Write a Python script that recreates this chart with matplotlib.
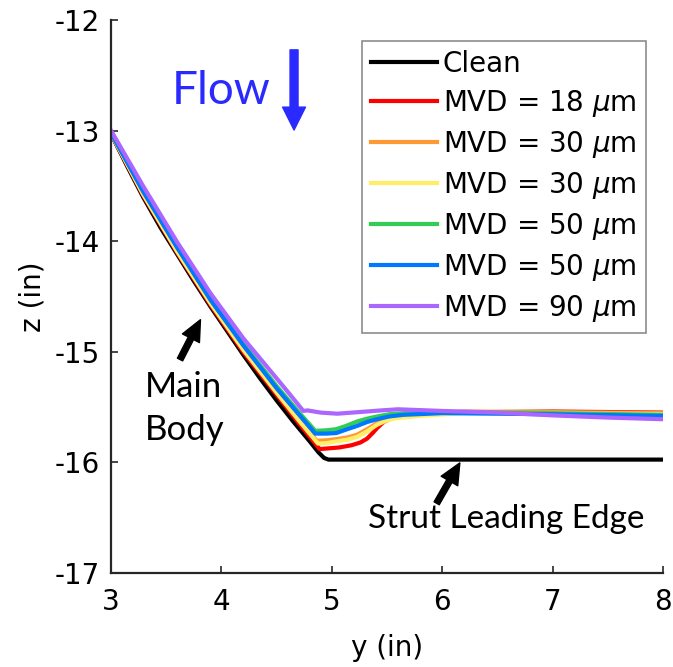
import matplotlib
matplotlib.use("Agg")
import matplotlib.pyplot as plt

plt.rcParams["font.family"] = ["DejaVu Sans"]
plt.rcParams["mathtext.fontset"] = "dejavusans"
plt.rcParams["axes.unicode_minus"] = False

# Surface profiles: spanwise position y (in) vs vertical position z (in)
clean_y = [3.00, 3.15, 3.29, 3.45, 3.60, 3.75, 3.90, 4.05, 4.20, 4.35, 4.50, 4.65, 4.80,
           4.88, 4.93, 4.97, 6.00, 7.00, 8.00]
clean_z = [-13.03, -13.33, -13.60, -13.88, -14.12, -14.36, -14.59, -14.81, -15.03, -15.24,
           -15.44, -15.63, -15.81, -15.91, -15.96, -15.975, -15.975, -15.975, -15.975]

mvd18_y = [3.00, 3.29, 3.60, 3.90, 4.20, 4.50, 4.70, 4.89, 5.07, 5.18, 5.26, 5.32, 5.37,
           5.41, 5.47, 5.55, 5.70, 6.00, 7.00, 8.00]
mvd18_z = [-13.03, -13.585, -14.105, -14.575, -15.005, -15.39, -15.645, -15.88, -15.865,
           -15.845, -15.82, -15.785, -15.735, -15.69, -15.635, -15.595, -15.565, -15.55,
           -15.54, -15.55]

mvd30a_y = [3.00, 3.29, 3.60, 3.90, 4.20, 4.50, 4.70, 4.865, 4.96, 5.04, 5.14, 5.23, 5.32,
            5.41, 5.50, 5.59, 5.80, 6.20, 7.00, 8.00]
mvd30a_z = [-13.025, -13.57, -14.09, -14.555, -14.98, -15.36, -15.61, -15.805, -15.80,
            -15.79, -15.775, -15.75, -15.70, -15.645, -15.605, -15.585, -15.56, -15.54,
            -15.545, -15.555]

mvd30b_y = [3.00, 3.29, 3.60, 3.90, 4.20, 4.50, 4.70, 4.875, 4.96, 5.04, 5.14, 5.23, 5.32,
            5.41, 5.50, 5.59, 5.80, 6.20, 7.00, 8.00]
mvd30b_z = [-13.025, -13.575, -14.095, -14.56, -14.985, -15.37, -15.62, -15.83, -15.825,
            -15.81, -15.795, -15.77, -15.72, -15.66, -15.62, -15.60, -15.58, -15.555,
            -15.555, -15.565]

mvd50a_y = [3.00, 3.29, 3.60, 3.90, 4.20, 4.50, 4.70, 4.85, 4.95, 5.04, 5.13, 5.23, 5.32,
            5.41, 5.52, 5.65, 6.00, 7.00, 8.00]
mvd50a_z = [-13.02, -13.54, -14.05, -14.52, -14.93, -15.31, -15.545, -15.715, -15.71,
            -15.70, -15.67, -15.63, -15.605, -15.585, -15.565, -15.555, -15.545, -15.555,
            -15.57]

mvd50b_y = [3.00, 3.29, 3.60, 3.90, 4.20, 4.50, 4.70, 4.85, 4.95, 5.04, 5.14, 5.23, 5.32,
            5.41, 5.52, 5.65, 6.00, 7.00, 8.00]
mvd50b_z = [-13.02, -13.55, -14.06, -14.53, -14.945, -15.33, -15.565, -15.74, -15.74,
            -15.735, -15.70, -15.67, -15.635, -15.61, -15.585, -15.57, -15.555, -15.565,
            -15.58]

mvd90_y = [3.00, 3.29, 3.60, 3.90, 4.20, 4.50, 4.62, 4.742, 4.78, 4.90, 5.05, 5.25, 5.45,
           5.60, 6.00, 6.50, 7.00, 7.50, 8.00]
mvd90_z = [-13.00, -13.50, -14.01, -14.47, -14.88, -15.24, -15.385, -15.535, -15.53,
           -15.55, -15.56, -15.545, -15.53, -15.52, -15.535, -15.55, -15.575, -15.595,
           -15.61]

series_labels = ["Clean", "MVD = 18 $\\mu$m", "MVD = 30 $\\mu$m", "MVD = 30 $\\mu$m",
                 "MVD = 50 $\\mu$m", "MVD = 50 $\\mu$m", "MVD = 90 $\\mu$m"]
series_colors = ["#000000", "#ff0000", "#ff9933", "#ffee66", "#33cc55", "#0077ff", "#aa66ff"]

x_ticks = [3, 4, 5, 6, 7, 8]
z_ticks = [-17, -16, -15, -14, -13, -12]

fig = plt.figure(figsize=(6.73, 6.67), dpi=100)
ax = fig.add_axes([0.165, 0.141, 0.820, 0.829])

profiles = [(clean_y, clean_z), (mvd18_y, mvd18_z), (mvd30a_y, mvd30a_z),
            (mvd30b_y, mvd30b_z), (mvd50a_y, mvd50a_z), (mvd50b_y, mvd50b_z),
            (mvd90_y, mvd90_z)]
for (yy, zz), lab, col in zip(profiles, series_labels, series_colors):
    ax.plot(yy, zz, color=col, lw=3.0, label=lab, solid_joinstyle="round")

ax.set_xlim(3, 8)
ax.set_ylim(-17, -12)
ax.set_xticks(x_ticks)
ax.set_yticks(z_ticks)
ax.set_xticklabels([str(t) for t in x_ticks])
ax.set_yticklabels([str(t) for t in z_ticks])
ax.tick_params(direction="in", length=5, width=1.2, labelsize=20, colors="#262626",
               labelcolor="black")
ax.tick_params(axis="x", pad=11)
ax.tick_params(axis="y", pad=8)
for side in ["top", "right"]:
    ax.spines[side].set_visible(False)
for side in ["left", "bottom"]:
    ax.spines[side].set_linewidth(1.6)
    ax.spines[side].set_color("#262626")

ax.set_xlabel("y (in)", fontsize=20, labelpad=13)
ax.set_ylabel("z (in)", fontsize=20, labelpad=6)

leg = ax.legend(loc="upper right", bbox_to_anchor=(0.969, 0.962), borderaxespad=0,
                fontsize=20, frameon=True, fancybox=False, handlelength=2.4,
                handletextpad=0.2, labelspacing=0.36, borderpad=0.33)
leg.get_frame().set_edgecolor("#707070")
leg.get_frame().set_linewidth(1.2)

# Annotations
note_font = ["Lato", "DejaVu Sans"]
blue = "#2a2aff"
ax.text(3.553, -12.76, "Flow", color=blue, fontsize=33, family=note_font,
        ha="left", va="baseline")
ax.annotate("", xy=(4.658, -12.995), xytext=(4.658, -12.27),
            arrowprops=dict(arrowstyle="simple,head_length=0.66,head_width=0.66,tail_width=0.23",
                            color=blue, mutation_scale=25, shrinkA=0, shrinkB=0))

ax.text(3.308, -15.41, "Main", fontsize=25, family=note_font, ha="left", va="baseline")
ax.text(3.308, -15.80, "Body", fontsize=25, family=note_font, ha="left", va="baseline")
ax.annotate("", xy=(3.81, -14.71), xytext=(3.625, -15.07),
            arrowprops=dict(arrowstyle="simple,head_length=0.6,head_width=0.55,tail_width=0.17",
                            color="black", mutation_scale=25, shrinkA=0, shrinkB=0))

ax.text(5.328, -16.593, "Strut Leading Edge", fontsize=24, family=note_font,
        ha="left", va="baseline")
ax.annotate("", xy=(6.16, -16.005), xytext=(5.95, -16.37),
            arrowprops=dict(arrowstyle="simple,head_length=0.6,head_width=0.55,tail_width=0.17",
                            color="black", mutation_scale=25, shrinkA=0, shrinkB=0))

fig.savefig("out.png", dpi=100)
